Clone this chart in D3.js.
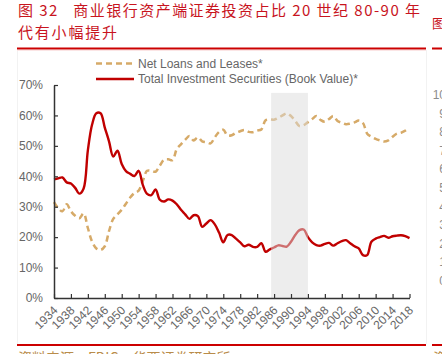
<!DOCTYPE html>
<html><head><meta charset="utf-8">
<script src="https://cdn.jsdelivr.net/npm/d3@7"></script>
<style>
html,body{margin:0;padding:0;background:#fff;}
svg{display:block;}
</style></head>
<body>
<svg id="c" width="442" height="354"></svg>
<script>
const years = d3.range(1934, 2019);
const netLoans = [31.5,29.5,28.5,30.8,28.5,27.0,26.2,27.8,23.0,18.5,
16.3,15.8,17.0,22.0,26.0,27.5,29.0,31.0,33.0,34.5,
35.3,38.5,41.8,41.8,41.5,43.5,45.4,45.6,45.3,48.9,
50.5,52.0,53.2,51.8,52.8,51.5,51.2,50.8,52.8,54.6,
55.3,53.4,53.5,54.3,54.8,55.2,54.6,54.5,55.0,55.4,
58.4,58.7,58.6,59.2,60.0,60.7,59.8,58.2,56.5,56.8,
57.8,58.8,59.8,58.5,57.9,58.8,59.8,58.2,57.6,57.1,
57.3,57.7,58.3,57.5,54.0,53.0,52.3,51.8,51.4,51.8,
53.0,54.0,54.3,55.0,55.8];
const investSec = [39.0,39.3,39.6,38.0,37.6,36.2,34.3,36.0,48.5,57.0,
60.7,60.7,56.0,51.5,46.5,48.4,44.0,41.7,40.8,40.1,
41.8,37.1,34.2,33.8,35.7,32.3,31.7,32.4,32.0,30.8,
29.0,27.5,26.0,27.2,26.9,23.4,24.5,25.6,24.2,21.5,
18.3,20.7,20.7,19.5,18.3,17.0,17.5,16.8,16.8,18.0,
15.2,16.0,16.6,17.3,17.1,16.9,18.5,20.7,22.3,22.5,
20.0,18.3,17.4,17.2,17.8,18.1,17.2,18.0,18.7,19.0,
18.0,17.0,16.3,14.1,14.1,18.5,19.5,20.0,20.4,19.8,
20.3,20.5,20.6,20.3,19.7];
const xTicks = d3.range(1934, 2019, 4);
const yTicks = [0,10,20,30,40,50,60,70];
const bandYears = [1985.3, 1994];
const bandTop = 67.4;
const seriesNames = ["Net Loans and Leases*", "Total Investment Securities (Book Value)*"];
const titleLines = ["图 32\u00a0\u00a0\u00a0商业银行资产端证券投资占比 20 世纪 80-90 年", "代有小幅提升"];
const sourceText = "资料来源：FDIC，华西证券研究所";
const sideTicks = ["10","9","8","7","6","5","4","3","2","1","0"];

const svg = d3.select("#c");
const W = 442, H = 354;
svg.append("rect").attr("width", W).attr("height", H).attr("fill", "#fff");

// panel borders
svg.append("line").attr("x1",17.5).attr("x2",17.5).attr("y1",50).attr("y2",344).attr("stroke","#f2f2f2");
svg.append("line").attr("x1",426.5).attr("x2",426.5).attr("y1",50).attr("y2",344).attr("stroke","#f2f2f2");

// title
const tFont = "'Noto Sans CJK SC', sans-serif";
svg.append("text").attr("x",18).attr("y",16).attr("fill","#c8141e")
  .attr("font-family",tFont).attr("font-size",15)
  .attr("textLength",402).attr("lengthAdjust","spacing").text(titleLines[0]);
svg.append("text").attr("x",18).attr("y",37.8).attr("fill","#c8141e")
  .attr("font-family",tFont).attr("font-size",15)
  .attr("textLength",99).attr("lengthAdjust","spacing").text(titleLines[1]);
svg.append("text").attr("x",432).attr("y",28).attr("fill","#c8141e")
  .attr("font-family",tFont).attr("font-size",13).text("图");

// rules
svg.append("rect").attr("x",17).attr("y",47.5).attr("width",409).attr("height",2).attr("fill","#cc0000");
svg.append("rect").attr("x",432).attr("y",47.5).attr("width",10).attr("height",2).attr("fill","#cc0000");
svg.append("rect").attr("x",17).attr("y",344).attr("width",409).attr("height",2).attr("fill","#cc0000");
svg.append("rect").attr("x",432).attr("y",344).attr("width",10).attr("height",2).attr("fill","#cc0000");
svg.append("line").attr("x1",17).attr("x2",426).attr("y1",50.5).attr("y2",50.5).attr("stroke","#fbe5e5");

// source
svg.append("text").attr("x",18).attr("y",363).attr("fill","#b98c4a")
  .attr("font-family",tFont).attr("font-size",14).text(sourceText);
svg.append("text").attr("x",433).attr("y",363).attr("fill","#b98c4a")
  .attr("font-family",tFont).attr("font-size",14).text(sourceText);

// side ticks of neighbouring chart
svg.append("g").selectAll("text").data(sideTicks).join("text")
  .attr("x",446).attr("y",(d,i)=>99+i*18.6).attr("text-anchor","end")
  .attr("fill","#8c8c8c").attr("font-family","'Liberation Sans', Arial, sans-serif")
  .attr("font-size",12).text(d=>d);

// scales
const x = d3.scaleLinear().domain([1934, 2018]).range([54, 409.5]);
const y = d3.scaleLinear().domain([0, 70]).range([298, 85]);

const lineGen = d3.line().x((d,i)=>x(years[i])).y(d=>y(d)).curve(d3.curveCatmullRom.alpha(0.5));

const plot = svg.append("g");
plot.append("path").datum(netLoans).attr("d", lineGen).attr("fill","none")
  .attr("stroke","#d6aa68").attr("stroke-width",2.5).attr("stroke-dasharray","6,4");
plot.append("path").datum(investSec).attr("d", lineGen).attr("fill","none")
  .attr("stroke","#c00000").attr("stroke-width",2.4).attr("stroke-linejoin","round");

// band
plot.append("rect").attr("x", x(bandYears[0])).attr("width", x(bandYears[1]) - x(bandYears[0]))
  .attr("y", y(bandTop)).attr("height", y(0) - y(bandTop))
  .attr("fill","#dcdcdc").attr("fill-opacity",0.5);

// axes
const lblFont = "'Liberation Sans', Arial, sans-serif";
const yAxis = svg.append("g").attr("transform","translate(54,0)")
  .call(d3.axisLeft(y).tickValues(yTicks).tickFormat(d=>d+"%").tickSize(-4).tickSizeOuter(0).tickPadding(11));
const xAxis = svg.append("g").attr("transform","translate(0,298)")
  .call(d3.axisBottom(x).tickValues(xTicks).tickFormat(d3.format("d")).tickSize(-4).tickSizeOuter(0));
[yAxis, xAxis].forEach(g=>{
  g.select(".domain").attr("stroke","#333").attr("stroke-width",1.5);
  g.selectAll(".tick line").attr("stroke","#333").attr("stroke-width",1.2);
  g.selectAll("text").attr("fill","#666").attr("font-family",lblFont).attr("font-size",12);
});
xAxis.selectAll("text").attr("x",0).attr("y",0).attr("dy",0)
  .attr("text-anchor","end").attr("transform","translate(4,13) rotate(-45)");

// legend
const leg = svg.append("g").attr("font-family",lblFont).attr("font-size",12).attr("fill","#666");
leg.append("line").attr("x1",96).attr("x2",134).attr("y1",63.5).attr("y2",63.5)
  .attr("stroke","#d6aa68").attr("stroke-width",2.5).attr("stroke-dasharray","6,4");
leg.append("text").attr("x",138).attr("y",67.5).text(seriesNames[0]);
leg.append("line").attr("x1",96).attr("x2",134).attr("y1",79).attr("y2",79)
  .attr("stroke","#c00000").attr("stroke-width",2.4);
leg.append("text").attr("x",138).attr("y",83).text(seriesNames[1]);
</script>
</body></html>
